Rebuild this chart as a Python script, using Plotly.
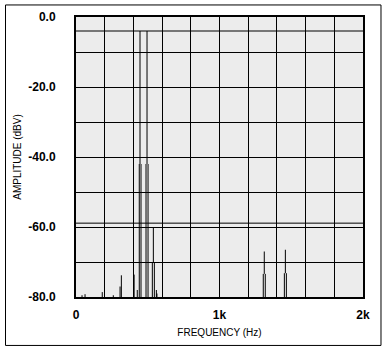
import plotly.graph_objects as go

# ---- data ----
line_freq_hz = [42, 63, 183, 260, 307, 316, 405, 427,
                441, 446, 453, 488, 495, 502,
                532, 539, 546, 560, 564,
                1305, 1312, 1319, 1452, 1459, 1466]
line_top_dbv = [-79.5, -79.2, -78.6, -79.5, -77.0, -73.8, -73.6, -78.0,
                -42.0, -4.0, -42.0, -42.0, -4.0, -42.0,
                -70.0, -60.0, -70.0, -78.0, -79.0,
                -73.4, -67.0, -73.4, -73.2, -66.5, -73.2]
line_base_dbv = [-80, -80, -80, -80, -80, -80, -80, -80,
                 -80, -42, -80, -80, -42, -80,
                 -80, -70, -80, -80, -80,
                 -80, -73.4, -80, -80, -73.2, -80]

x_tick_vals = [0, 1000, 2000]
x_tick_text = ["0", "1k", "2k"]
y_tick_vals = [0, -20, -40, -60, -80]
y_tick_text = ["0.0", "-20.0", "-40.0", "-60.0", "-80.0"]
marker_levels_dbv = [-4.0, -58.9]

xs, ys = [], []
for f, t, b in zip(line_freq_hz, line_top_dbv, line_base_dbv):
    xs += [f, f, None]
    ys += [b, t, None]

FONT = "Liberation Sans, Arial, sans-serif"

fig = go.Figure()
fig.add_trace(go.Scatter(x=xs, y=ys, mode="lines",
                         line=dict(color="black", width=1),
                         hoverinfo="skip", showlegend=False))

for lvl in marker_levels_dbv:
    fig.add_shape(type="line", xref="x", yref="y", x0=0, x1=2000, y0=lvl, y1=lvl,
                  line=dict(color="black", width=1), layer="above")

# outer frame
fig.add_shape(type="rect", xref="paper", yref="paper",
              x0=-0.2456, x1=1.0627, y0=-0.173, y1=1.043,
              line=dict(color="black", width=1))

fig.update_layout(
    width=388, height=351,
    margin=dict(l=76, r=25, t=17, b=54),
    paper_bgcolor="white", plot_bgcolor="#ECECEC",
    showlegend=False,
    font=dict(family=FONT, color="black"),
)
fig.update_xaxes(
    range=[0, 2000], tickvals=x_tick_vals, ticktext=x_tick_text,
    showgrid=True, gridcolor="black", gridwidth=1,
    minor=dict(dtick=200, tick0=0, showgrid=True, gridcolor="black", gridwidth=1),
    showline=True, mirror=True, linecolor="black", linewidth=2,
    ticks="", ticklabelstandoff=6, zeroline=False, automargin=False,
    tickfont=dict(family=FONT, size=12, color="black", weight="bold"),
    title=dict(text="FREQUENCY (Hz)", font=dict(family=FONT, size=10), standoff=8),
)
fig.update_yaxes(
    range=[-80, 0], tickvals=y_tick_vals, ticktext=y_tick_text,
    showgrid=True, gridcolor="black", gridwidth=1,
    minor=dict(dtick=10, tick0=0, showgrid=True, gridcolor="black", gridwidth=1),
    showline=True, mirror=True, linecolor="black", linewidth=2,
    ticks="", ticklabelstandoff=16, zeroline=False, automargin=False,
    tickfont=dict(family=FONT, size=12, color="black", weight="bold"),
    title=dict(text="AMPLITUDE (dBV)", font=dict(family=FONT, size=10), standoff=5),
)

fig.write_html("out.html", config={"displayModeBar": False},
               post_script="document.body.style.margin='0';")
